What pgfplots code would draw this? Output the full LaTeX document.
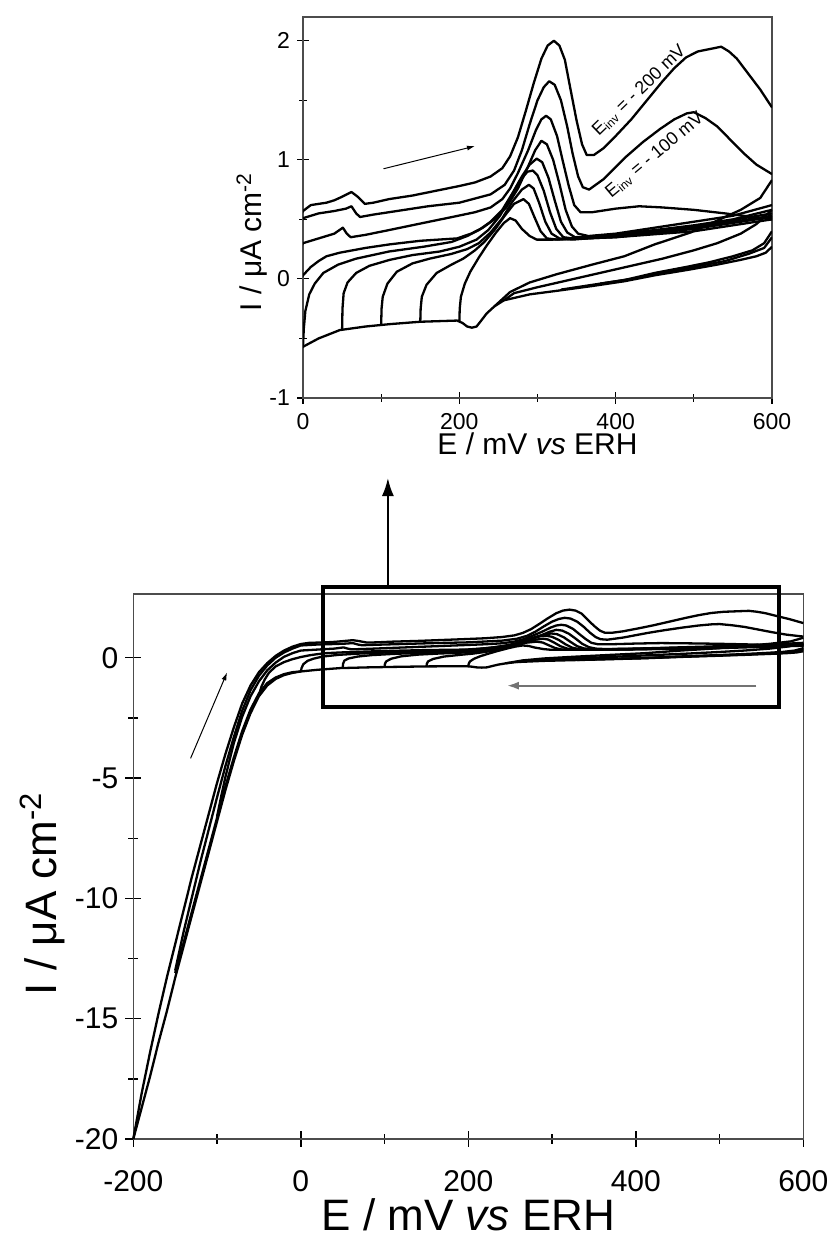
\documentclass[border=0pt]{standalone}
\usepackage{fontspec}
\setmainfont{Liberation Sans}
\usepackage{pgfplots}
\pgfplotsset{compat=1.18}
\usepackage{pgfplotstable}
\usetikzlibrary{arrows.meta}

\pgfplotstableread{
x y
600 0.27
592 0.22
580 0.19
560 0.16
530 0.12
496 0.08
450 0.03
411 -0.02
370 -0.06
325 -0.10
290 -0.13
257 -0.18
245 -0.23
235 -0.29
228 -0.35
222 -0.40
216 -0.41
210 -0.40
204 -0.37
197 -0.35
150 -0.36
111 -0.38
80 -0.40
47 -0.43
20 -0.50
0 -0.57
}\catK
\pgfplotstableread{
x y
600 0.40
590 0.30
575 0.24
550 0.19
520 0.14
490 0.10
450 0.05
411 -0.01
370 -0.05
330 -0.09
}\catXa
\pgfplotstableread{
x y
600 0.35
590 0.26
570 0.21
540 0.15
500 0.10
460 0.05
420 0.00
380 -0.04
}\catXb
\pgfplotstableread{
x y
0 -0.57
-10 -0.63
-20 -0.72
-30 -0.88
-40 -1.15
-50 -1.6
-60 -2.3
-70 -3.2
-80 -4.3
-90 -5.5
-100 -6.8
-110 -8.1
-120 -9.4
-130 -10.7
-140 -12.0
-150 -13.3
-160 -14.7
-170 -16.0
-180 -17.4
-190 -18.7
-200 -20
}\catNeg
\pgfplotstableread{
x y
0 -0.57
-10 -0.60
-20 -0.68
-30 -0.82
-40 -1.05
-50 -1.48
-60 -2.15
-70 -3.05
-80 -4.15
-90 -5.35
-100 -6.65
-110 -7.95
-120 -9.25
-130 -10.55
-140 -11.85
-150 -13.1
}\catNegB
\pgfplotstableread{
x y
600 0.83
585 0.68
560 0.58
530 0.49
496 0.39
450 0.29
411 0.19
370 0.12
325 0.04
290 -0.03
265 -0.11
250 -0.20
245 -0.23
}\catA
\pgfplotstableread{
x y
600 0.58
580 0.46
560 0.38
530 0.30
500 0.24
460 0.17
420 0.11
380 0.05
340 -0.01
300 -0.07
270 -0.12
257 -0.18
}\catB
\pgfplotstableread{
x y
-200 -20
-190 -18.1
-180 -16.4
-170 -14.8
-160 -13.3
-150 -11.9
-140 -10.5
-130 -9.1
-120 -7.8
-110 -6.5
-100 -5.2
-90 -4.0
-80 -2.9
-70 -1.9
-60 -1.15
-50 -0.6
-40 -0.22
-30 0.08
-20 0.30
-10 0.46
0 0.57
10 0.62
20 0.63
30 0.64
40 0.66
50 0.69
62 0.73
70 0.69
79 0.63
90 0.64
110 0.67
140 0.70
170 0.74
200 0.78
220 0.81
240 0.86
255 0.93
265 1.03
275 1.19
285 1.41
295 1.64
305 1.85
313 1.96
321 2.00
328 1.96
335 1.84
342 1.60
350 1.33
357 1.13
363 1.04
372 1.04
385 1.10
400 1.20
420 1.34
440 1.50
460 1.66
475 1.77
490 1.86
505 1.91
520 1.93
535 1.95
545 1.91
555 1.85
570 1.72
585 1.59
600 1.44
}\anA
\pgfplotstableread{
x y
-150 -13.0
-140 -11.4
-130 -9.95
-120 -8.5
-110 -7.15
-100 -5.8
-90 -4.5
-80 -3.3
-70 -2.2
-60 -1.35
-50 -0.75
-40 -0.32
-30 0.0
-20 0.22
-10 0.38
0 0.51
20 0.55
40 0.57
55 0.59
62 0.61
68 0.55
73 0.52
90 0.54
120 0.57
160 0.61
200 0.64
240 0.71
258 0.79
270 0.91
280 1.08
290 1.30
300 1.50
308 1.61
315 1.66
322 1.63
330 1.50
338 1.28
345 1.05
352 0.86
358 0.77
366 0.75
385 0.84
414 1.03
435 1.15
457 1.26
475 1.34
491 1.39
500 1.40
515 1.35
530 1.28
545 1.18
563 1.06
580 0.96
600 0.88
}\anB
\pgfplotstableread{
x y
-100 -6.6
-95 -5.75
-90 -4.95
-80 -3.55
-70 -2.45
-60 -1.6
-50 -0.98
-40 -0.52
-30 -0.2
-20 0.04
-10 0.19
0 0.30
20 0.34
40 0.38
51 0.43
56 0.38
61 0.35
80 0.37
110 0.41
154 0.47
191 0.52
220 0.56
240 0.60
255 0.67
265 0.76
275 0.89
288 1.08
298 1.25
305 1.34
311 1.37
317 1.34
325 1.20
332 1.00
340 0.78
347 0.62
355 0.56
370 0.56
400 0.59
430 0.61
460 0.60
500 0.58
540 0.55
575 0.52
600 0.50
}\anC
\pgfplotstableread{
x y
-50 -1.55
-47 -1.2
-43 -0.9
-38 -0.62
-30 -0.36
-20 -0.18
-10 -0.06
0 0.03
10 0.10
20 0.15
30 0.19
47 0.22
80 0.26
111 0.29
150 0.32
197 0.34
215 0.38
230 0.43
245 0.50
260 0.60
275 0.76
287 0.93
297 1.08
305 1.16
312 1.13
320 1.00
328 0.80
336 0.58
344 0.44
352 0.38
365 0.36
400 0.38
450 0.43
500 0.48
550 0.53
600 0.62
}\anD
\pgfplotstableread{
x y
0 -0.57
1 -0.42
3 -0.27
8 -0.13
15 -0.04
26 0.05
45 0.12
68 0.17
110 0.23
154 0.27
190 0.31
210 0.36
225 0.41
240 0.48
255 0.58
268 0.72
280 0.86
290 0.96
299 1.01
306 0.98
314 0.85
322 0.66
330 0.48
338 0.39
348 0.35
380 0.36
450 0.41
500 0.45
550 0.50
600 0.58
}\anE
\pgfplotstableread{
x y
50 -0.43
50.5 -0.25
52 -0.12
57 -0.03
68 0.05
85 0.11
111 0.16
140 0.20
175 0.23
200 0.27
222 0.33
237 0.41
252 0.53
265 0.68
277 0.82
287 0.90
294 0.91
300 0.87
308 0.74
316 0.56
324 0.42
333 0.35
345 0.34
400 0.37
500 0.44
600 0.55
}\anF
\pgfplotstableread{
x y
100 -0.38
100.5 -0.25
102 -0.15
108 -0.04
120 0.06
140 0.13
162 0.17
190 0.21
210 0.25
225 0.30
240 0.39
255 0.51
268 0.65
280 0.75
289 0.79
295 0.76
302 0.64
310 0.48
318 0.38
328 0.34
345 0.33
400 0.36
500 0.43
600 0.53
}\anG
\pgfplotstableread{
x y
150 -0.37
150.5 -0.25
152 -0.15
158 -0.05
171 0.05
190 0.12
205 0.17
220 0.24
232 0.31
245 0.41
258 0.53
270 0.63
282 0.67
289 0.63
296 0.52
304 0.40
312 0.34
325 0.33
400 0.35
500 0.42
600 0.52
}\anH
\pgfplotstableread{
x y
200 -0.36
200.5 -0.25
202 -0.15
207 -0.04
214 0.06
225 0.18
235 0.28
247 0.39
257 0.47
265 0.51
272 0.49
280 0.42
290 0.36
299 0.33
320 0.33
400 0.35
500 0.40
600 0.50
}\anI

\pgfplotsset{cv/.style={black, line width=1.15pt, no markers, line join=round}}
\newcommand{\allcurves}{%
\addplot[cv] table {\catK};
\addplot[cv] table {\catXa};
\addplot[cv] table {\catXb};
\addplot[cv] table {\catNeg};
\addplot[cv] table {\catNegB};
\addplot[cv] table {\catA};
\addplot[cv] table {\catB};
\addplot[cv] table {\anA};
\addplot[cv] table {\anB};
\addplot[cv] table {\anC};
\addplot[cv] table {\anD};
\addplot[cv] table {\anE};
\addplot[cv] table {\anF};
\addplot[cv] table {\anG};
\addplot[cv] table {\anH};
\addplot[cv] table {\anI};
}

\begin{document}
\begin{tikzpicture}
\path[use as bounding box] (0,0) rectangle (415pt,620pt);
% main axis
\begin{axis}[
  at={(66.65pt,50.5pt)}, anchor=south west,
  width=335pt, height=272.5pt, scale only axis,
  xmin=-200, xmax=600, ymin=-20, ymax=2.65,
  clip=false,
  axis line style={line width=0.7pt, black!70},
  tick pos=left,
  xtick={-200,0,200,400,600}, xticklabels={-200,0,200,400,600},
  minor xtick={-100,100,300,500},
  ytick={-20,-15,-10,-5,0}, yticklabels={-20,-15,-10,-5,0},
  minor ytick={-17.5,-12.5,-7.5,-2.5},
  tick align=center, major tick length=8pt, minor tick length=5pt,
  every tick/.style={black, line width=0.7pt},
  tick label style={font=\fontsize{15}{18}\selectfont},
  xticklabel style={yshift=-8pt},
  xlabel={E / mV \textit{vs} ERH}, ylabel={I / μA cm\textsuperscript{-2}},
  label style={font=\fontsize{22}{26}\selectfont},
  xlabel style={at={(axis description cs:0.5,-0.139)}, anchor=center},
  ylabel style={at={(axis description cs:-0.136,0.45)}, anchor=center},
]
\allcurves
\draw[line width=2pt] (axis cs:26.5,-2.03) rectangle (axis cs:571,2.96);
\draw[line width=1pt, -{Latex[length=9pt,width=6pt]}] (axis cs:104,2.96) -- (axis cs:104,7.47);
\draw[black!55, line width=1.1pt, -{Latex[length=6pt,width=4pt]}] (axis cs:544,-1.16) -- (axis cs:246,-1.16);
\draw[line width=0.5pt, -{Latex[length=4pt,width=2.5pt]}] (axis cs:-131.6,-4.18) -- (axis cs:-88,-0.61);
\end{axis}
% inset axis
\begin{axis}[
  at={(151.5pt,421pt)}, anchor=south west,
  width=234.5pt, height=190.5pt, scale only axis,
  xmin=0, xmax=600, ymin=-1, ymax=2.2,
  axis line style={line width=0.7pt, black!70},
  tick pos=left,
  xtick={0,200,400,600}, xticklabels={0,200,400,600},
  minor xtick={100,300,500},
  ytick={-1,0,1,2}, yticklabels={-1,0,1,2},
  minor ytick={-0.5,0.5,1.5},
  tick align=center, major tick length=6pt, minor tick length=4pt,
  every tick/.style={black, line width=0.6pt},
  tick label style={font=\fontsize{11.5}{13}\selectfont},
  xticklabel style={yshift=-1pt},
  xlabel={E / mV \textit{vs} ERH}, ylabel={I / μA cm\textsuperscript{-2}},
  label style={font=\fontsize{15}{18}\selectfont},
  xlabel style={at={(axis description cs:0.5,-0.121)}, anchor=center},
  ylabel style={at={(axis description cs:-0.109,0.41)}, anchor=center},
]
\allcurves
\draw[line width=0.5pt, -{Latex[length=4pt,width=2.5pt]}] (axis cs:103,0.925) -- (axis cs:220,1.115);
\node[rotate=44, font=\fontsize{9}{10}\selectfont, inner sep=0pt] at (axis cs:430,1.58) {E\textsubscript{inv} = - 200 mV};
\node[rotate=40, font=\fontsize{9}{10}\selectfont, inner sep=0pt] at (axis cs:450,1.04) {E\textsubscript{inv} = - 100 mV};
\end{axis}
\end{tikzpicture}
\end{document}
